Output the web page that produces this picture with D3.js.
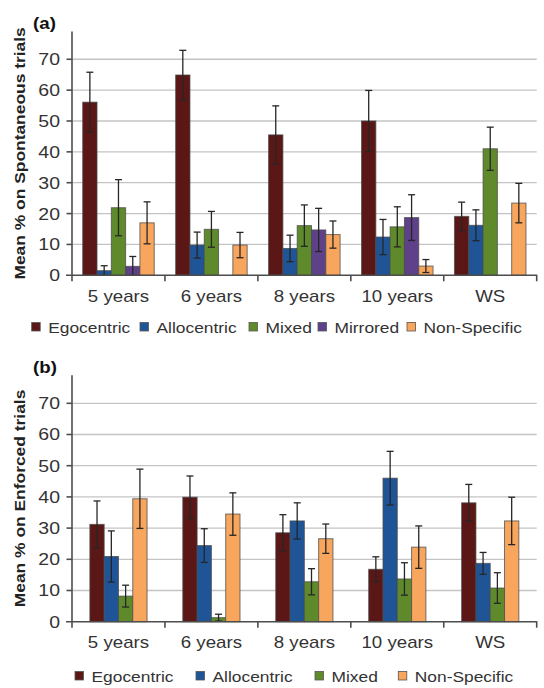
<!DOCTYPE html>
<html>
<head>
<meta charset="utf-8">
<script src="https://cdn.jsdelivr.net/npm/d3@7/dist/d3.min.js"></script>
<style>
  html, body { margin: 0; padding: 0; background: #fff; }
  svg { display: block; font-family: "Liberation Sans", Arial, sans-serif; }
</style>
</head>
<body>
<svg id="chart" width="544" height="688"></svg>
<script>
// ---- data ----
const groups = ["5 years", "6 years", "8 years", "10 years", "WS"];
const seriesSpont = ["Egocentric", "Allocentric", "Mixed", "Mirrored", "Non-Specific"];
const seriesEnf = ["Egocentric", "Allocentric", "Mixed", "Non-Specific"];
const yTicks = [0, 10, 20, 30, 40, 50, 60, 70];

// Mean % on spontaneous trials (one value per group)
const spontEgo      = [56.1, 64.9, 45.5, 50.0, 19.1];
const spontAllo     = [1.5, 9.8, 8.7, 12.4, 16.2];
const spontMixed    = [21.9, 14.9, 16.1, 15.7, 41.0];
const spontMirrored = [2.9, null, 14.7, 18.7, null];
const spontNonSpec  = [17.0, 9.8, 13.2, 3.0, 23.4];
// error bar half-lengths
const spontEgoErr      = [9.7, 8.0, 9.4, 9.9, 4.6];
const spontAlloErr     = [1.6, 4.2, 4.3, 5.7, 5.0];
const spontMixedErr    = [9.1, 5.8, 6.7, 6.5, 7.0];
const spontMirroredErr = [3.2, null, 7.0, 7.4, null];
const spontNonSpecErr  = [6.8, 4.1, 4.4, 2.1, 6.4];

// Mean % on enforced trials
const enfEgo     = [31.2, 39.9, 28.5, 16.8, 38.1];
const enfAllo    = [20.9, 24.4, 32.3, 46.0, 18.7];
const enfMixed   = [8.2, 1.3, 12.8, 13.7, 10.8];
const enfNonSpec = [39.4, 34.5, 26.6, 23.9, 32.3];
const enfEgoErr     = [7.5, 6.8, 5.8, 4.0, 5.9];
const enfAlloErr    = [8.2, 5.4, 5.8, 8.6, 3.5];
const enfMixedErr   = [3.5, 1.1, 4.2, 5.2, 4.9];
const enfNonSpecErr = [9.5, 6.8, 4.7, 6.8, 7.6];

// ---- styling ----
const colors = {
  "Egocentric": "#5b1616",
  "Allocentric": "#1f5597",
  "Mixed": "#5f8a2c",
  "Mirrored": "#5f418a",
  "Non-Specific": "#f8a65e"
};

const svg = d3.select("#chart");

// widen Arial-like glyphs horizontally
function stretch(sel, k) {
  sel.each(function () {
    const len = this.getComputedTextLength();
    d3.select(this).attr("textLength", len * k).attr("lengthAdjust", "spacingAndGlyphs");
  });
}

function drawPanel(cfg) {
  const g = svg.append("g");
  const x = d3.scaleBand().domain(groups).range([cfg.left, cfg.right]).padding(0);
  const y = d3.scaleLinear().domain([0, 80]).range([cfg.zeroY, cfg.topY]);
  const barW = 14.3;
  const n = cfg.series.length;
  const x1 = d3.scaleBand().domain(cfg.series)
    .range([x.bandwidth() / 2 - n * barW / 2, x.bandwidth() / 2 + n * barW / 2]);

  // gridlines
  g.append("g").selectAll("line").data(yTicks.filter(d => d > 0)).join("line")
    .attr("x1", cfg.left).attr("x2", cfg.right)
    .attr("y1", d => y(d)).attr("y2", d => y(d))
    .attr("stroke", "#c4c4c4").attr("stroke-width", 1.3);

  // bars
  const rows = [];
  cfg.series.forEach((s, si) => {
    groups.forEach((grp, gi) => {
      const v = cfg.values[si][gi];
      if (v === null) return;
      rows.push({ s, grp, v, e: cfg.errors[si][gi] });
    });
  });

  g.append("g").selectAll("rect").data(rows).join("rect")
    .attr("x", d => x(d.grp) + x1(d.s))
    .attr("y", d => y(d.v))
    .attr("width", x1.bandwidth())
    .attr("height", d => y(0) - y(d.v))
    .attr("fill", d => colors[d.s])
    .attr("stroke", "#4a4a4a").attr("stroke-opacity", 0.75).attr("stroke-width", 1);

  // error bars
  const eb = g.append("g").attr("stroke", "#262626").attr("stroke-width", 1.3);
  rows.filter(d => d.e !== null).forEach(d => {
    const cx = x(d.grp) + x1(d.s) + x1.bandwidth() / 2;
    const lo = Math.max(0, d.v - d.e), hi = d.v + d.e;
    eb.append("line").attr("x1", cx).attr("x2", cx).attr("y1", y(hi)).attr("y2", y(lo));
    eb.append("line").attr("x1", cx - 3.5).attr("x2", cx + 3.5).attr("y1", y(hi)).attr("y2", y(hi));
    eb.append("line").attr("x1", cx - 3.5).attr("x2", cx + 3.5).attr("y1", y(lo)).attr("y2", y(lo));
  });

  // axes
  const ax = g.append("g").attr("stroke", "#4d4d4d").attr("stroke-width", 1.6);
  ax.append("line").attr("x1", cfg.left).attr("x2", cfg.left)
    .attr("y1", y(0) + 6).attr("y2", y(79));
  ax.append("line").attr("x1", cfg.left - 6).attr("x2", cfg.right + 0.5)
    .attr("y1", y(0)).attr("y2", y(0));
  ax.selectAll(".yt").data(yTicks.filter(d => d > 0)).join("line")
    .attr("x1", cfg.left - 5.5).attr("x2", cfg.left)
    .attr("y1", d => y(d)).attr("y2", d => y(d));
  ax.selectAll(".xt").data(groups).join("line")
    .attr("x1", d => x(d) + x.bandwidth()).attr("x2", d => x(d) + x.bandwidth())
    .attr("y1", y(0)).attr("y2", y(0) + 6);

  // tick labels
  g.append("g").selectAll("text").data(yTicks).join("text")
    .attr("x", cfg.left - 12).attr("y", d => y(d)).attr("dy", "0.36em")
    .attr("text-anchor", "end").attr("font-size", 16.5).attr("fill", "#333")
    .text(d => d).call(stretch, 1.18);

  g.append("g").selectAll("text").data(groups).join("text")
    .attr("x", d => x(d) + x.bandwidth() / 2).attr("y", y(0) + 26.5)
    .attr("text-anchor", "middle").attr("font-size", 17).attr("fill", "#333")
    .text(d => d).call(stretch, 1.1);

  // y title
  g.append("text")
    .attr("transform", `translate(25,${(y(0) + y(79)) / 2}) rotate(-90)`)
    .attr("text-anchor", "middle").attr("font-size", 15).attr("font-weight", "bold")
    .attr("fill", "#222").text(cfg.yTitle).call(stretch, 1.16);

  // panel letter
  g.append("text").attr("x", 33).attr("y", cfg.letterY)
    .attr("font-size", 17).attr("font-weight", "bold").attr("fill", "#111")
    .text(cfg.letter).call(stretch, 1.1);

  // legend
  const lg = g.append("g");
  cfg.series.forEach((s, i) => {
    const lx = cfg.legendX[i];
    lg.append("rect").attr("x", lx).attr("y", cfg.legendY - 10.5)
      .attr("width", 8.5).attr("height", 8.5)
      .attr("fill", colors[s]).attr("stroke", "#555").attr("stroke-width", 0.8);
    lg.append("text").attr("x", lx + 16.5).attr("y", cfg.legendY)
      .attr("font-size", 15.5).attr("fill", "#333").text(s).call(stretch, 1.12);
  });
}

drawPanel({
  letter: "(a)", letterY: 29,
  left: 72, right: 536.7, zeroY: 275.3, topY: 28.4,
  series: seriesSpont,
  values: [spontEgo, spontAllo, spontMixed, spontMirrored, spontNonSpec],
  errors: [spontEgoErr, spontAlloErr, spontMixedErr, spontMirroredErr, spontNonSpecErr],
  yTitle: "Mean % on Spontaneous trials",
  legendX: [31.7, 140, 249, 318, 407], legendY: 333
});

drawPanel({
  letter: "(b)", letterY: 373,
  left: 72, right: 536.7, zeroY: 621.7, topY: 372.1,
  series: seriesEnf,
  values: [enfEgo, enfAllo, enfMixed, enfNonSpec],
  errors: [enfEgoErr, enfAlloErr, enfMixedErr, enfNonSpecErr],
  yTitle: "Mean % on Enforced trials",
  legendX: [75, 196, 315, 398.3], legendY: 682
});
</script>
</body>
</html>
